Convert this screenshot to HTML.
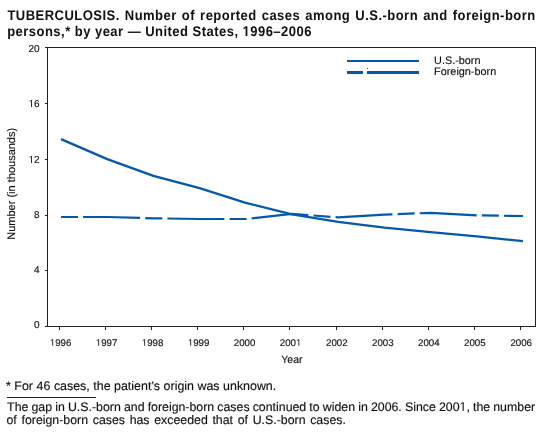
<!DOCTYPE html>
<html><head><meta charset="utf-8">
<style>
html,body{margin:0;padding:0;background:#fff;width:545px;height:433px;overflow:hidden}
svg{display:block;will-change:transform}
text{font-family:"Liberation Sans",sans-serif;fill:#111;stroke:#111;stroke-width:0.15px;text-rendering:geometricPrecision}
.b{font-weight:bold;stroke-width:0}
.h{fill-opacity:0;stroke-opacity:0}
.g1{fill:#111;stroke:#111;stroke-width:0.15px}
.g1b{fill:#111}
</style></head><body>
<svg width="545" height="433" viewBox="0 0 545 433">
<!-- title -->
<text class="b" transform="translate(7.4,19.5) scale(0.93,1)" font-size="14" letter-spacing="0.495" word-spacing="1.075">TUBERCULOSIS. Number of reported cases among U.S.-born and foreign-born</text>
<text class="b" transform="translate(7.2,36) scale(0.93,1)" font-size="14" letter-spacing="0.495">persons,* by year — United States, <tspan class="h">1</tspan>996–2006</text>

<!-- frame -->
<g fill="#231f20">
<rect x="47" y="47" width="489" height="1"/>
<rect x="47" y="47" width="1" height="280"/>
<rect x="47" y="326" width="489" height="1"/>
<rect x="535" y="47" width="1" height="280"/>
<!-- y ticks -->
<rect x="45" y="47" width="2" height="1"/>
<rect x="45" y="103" width="2" height="1"/>
<rect x="45" y="159" width="2" height="1"/>
<rect x="45" y="215" width="2" height="1"/>
<rect x="45" y="270" width="2" height="1"/>
<rect x="45" y="326" width="2" height="1"/>
<!-- x ticks -->
<rect x="59" y="327" width="1" height="3"/>
<rect x="105" y="327" width="1" height="3"/>
<rect x="151" y="327" width="1" height="3"/>
<rect x="197" y="327" width="1" height="3"/>
<rect x="243" y="327" width="1" height="3"/>
<rect x="289" y="327" width="1" height="3"/>
<rect x="336" y="327" width="1" height="3"/>
<rect x="382" y="327" width="1" height="3"/>
<rect x="428" y="327" width="1" height="3"/>
<rect x="474" y="327" width="1" height="3"/>
<rect x="520" y="327" width="1" height="3"/>
</g>

<!-- y labels -->
<g font-size="10" text-anchor="end">
<text x="39.6" y="52">20</text>
<text x="39.6" y="106.9"><tspan class="h">1</tspan>6</text>
<text x="39.6" y="162.9"><tspan class="h">1</tspan>2</text>
<text x="39.6" y="217.8">8</text>
<text x="39.6" y="272.8">4</text>
<text x="39.6" y="327.8">0</text>
</g>
<text font-size="11" text-anchor="middle" transform="translate(14.8,183.8) rotate(-90)">Number (in thousands)</text>

<!-- x labels -->
<g font-size="9.7" text-anchor="middle">
<text x="60.6" y="345.8"><tspan class="h">1</tspan>996</text>
<text x="106.6" y="345.8"><tspan class="h">1</tspan>997</text>
<text x="152.6" y="345.8"><tspan class="h">1</tspan>998</text>
<text x="198.6" y="345.8"><tspan class="h">1</tspan>999</text>
<text x="244.6" y="345.8">2000</text>
<text x="290.6" y="345.8">200<tspan class="h">1</tspan></text>
<text x="336.8" y="345.8">2002</text>
<text x="382.8" y="345.8">2003</text>
<text x="428.8" y="345.8">2004</text>
<text x="474.8" y="345.8">2005</text>
<text x="521.2" y="345.8">2006</text>
</g>
<text x="281.3" y="362.8" font-size="10.5">Year</text>

<!-- data lines -->
<g fill="none" stroke="#0659a9" stroke-width="2.2" stroke-linejoin="round">
<polyline stroke-width="2.35" points="61,139.2 107.2,159.1 153.4,175.9 199.6,188.2 245.8,202.8 292,214.4 338.2,221.8 384.4,227.7 430.6,232.1 476.8,236.4 523,241.2"/>
<polyline stroke-dasharray="17 5.1 57 5.2" points="61,217 107.2,217 153.4,218.3 199.6,219 245.8,219 292,213.8 338.2,217.4 384.4,214.7 430.6,212.8 476.8,215.4 523,216"/>
</g>

<!-- legend -->
<rect x="347" y="60" width="72" height="2" fill="#0659a9"/>
<rect x="347" y="71" width="16" height="3" fill="#0659a9"/>
<rect x="367" y="71" width="52" height="3" fill="#0659a9"/>
<rect x="367" y="68" width="1" height="1" fill="#0659a9"/>
<text x="434.1" y="63.9" font-size="10.85">U.S.-born</text>
<text x="434.1" y="75" font-size="10.85">Foreign-born</text>

<!-- footnotes -->
<text x="6.0" y="390" font-size="12.42" word-spacing="0.1">* For 46 cases, the patient’s origin was unknown.</text>
<rect x="7" y="397" width="89" height="1" fill="#231f20"/>
<text x="7.1" y="410.7" font-size="12.35" word-spacing="-0.3">The gap in U.S.-born and foreign-born cases continued to widen in 2006. Since 200<tspan class="h">1</tspan>, the number</text>
<text x="6.5" y="423.7" font-size="12.35" word-spacing="1.25">of foreign-born cases has exceeded that of U.S.-born cases.</text>
<g id="ones">
<path class="g1b" transform="matrix(0.93000 0.00000 0.00000 1.00000 7.2000 36.0000) translate(253.0625 0.0000) scale(0.006836 -0.006836)" d="M478 0L478 1170L140 959L140 1180L493 1409L759 1409L759 0Z"/>
<path class="g1" transform="matrix(1.00000 0.00000 0.00000 1.00000 0.0000 0.0000) translate(28.4750 106.9000) scale(0.004883 -0.004883)" d="M515 0L515 1237L197 1010L197 1180L530 1409L696 1409L696 0Z"/>
<path class="g1" transform="matrix(1.00000 0.00000 0.00000 1.00000 0.0000 0.0000) translate(28.4750 162.9000) scale(0.004883 -0.004883)" d="M515 0L515 1237L197 1010L197 1180L530 1409L696 1409L696 0Z"/>
<path class="g1" transform="matrix(1.00000 0.00000 0.00000 1.00000 0.0000 0.0000) translate(49.8187 345.8000) scale(0.004736 -0.004736)" d="M515 0L515 1237L197 1010L197 1180L530 1409L696 1409L696 0Z"/>
<path class="g1" transform="matrix(1.00000 0.00000 0.00000 1.00000 0.0000 0.0000) translate(95.8187 345.8000) scale(0.004736 -0.004736)" d="M515 0L515 1237L197 1010L197 1180L530 1409L696 1409L696 0Z"/>
<path class="g1" transform="matrix(1.00000 0.00000 0.00000 1.00000 0.0000 0.0000) translate(141.8188 345.8000) scale(0.004736 -0.004736)" d="M515 0L515 1237L197 1010L197 1180L530 1409L696 1409L696 0Z"/>
<path class="g1" transform="matrix(1.00000 0.00000 0.00000 1.00000 0.0000 0.0000) translate(187.8188 345.8000) scale(0.004736 -0.004736)" d="M515 0L515 1237L197 1010L197 1180L530 1409L696 1409L696 0Z"/>
<path class="g1" transform="matrix(1.00000 0.00000 0.00000 1.00000 0.0000 0.0000) translate(295.9750 345.8000) scale(0.004736 -0.004736)" d="M515 0L515 1237L197 1010L197 1180L530 1409L696 1409L696 0Z"/>
<path class="g1" transform="matrix(1.00000 0.00000 0.00000 1.00000 0.0000 0.0000) translate(459.5219 410.7000) scale(0.006030 -0.006030)" d="M515 0L515 1237L197 1010L197 1180L530 1409L696 1409L696 0Z"/>
</g>
</svg>
</body></html>
